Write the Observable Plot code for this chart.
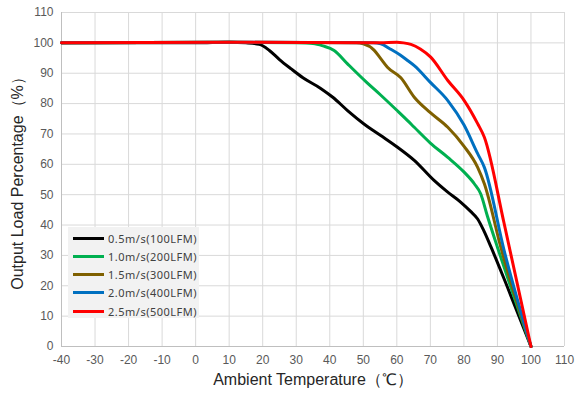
<!DOCTYPE html>
<html>
<head>
<meta charset="utf-8">
<script src="https://cdn.jsdelivr.net/npm/d3@7"></script>
<script src="https://cdn.jsdelivr.net/npm/@observablehq/plot@0.6"></script>
<style>
  html, body { margin: 0; padding: 0; background: #fff; }
  #wrap { position: relative; width: 577px; height: 398px; }
  #legend { position: absolute; left: 68px; top: 227px; width: 131px; height: 91px;
    background: #f2f2f2; font-family: "Noto Sans", "DejaVu Sans", sans-serif; font-size: 11px; letter-spacing: 0.5px; color: #404040; }
  .row { position: absolute; left: 5px; height: 14px; display: flex; align-items: center; }
  .sw { width: 31px; height: 3px; margin-right: 4px; }
</style>
</head>
<body>
<div id="wrap"></div>
<script>
const seriesNames = ["0.5m/s(100LFM)", "1.0m/s(200LFM)", "1.5m/s(300LFM)", "2.0m/s(400LFM)", "2.5m/s(500LFM)"];
const seriesColors = ["#000000", "#00b050", "#7f6000", "#0070c0", "#ff0000"];
const xTicks = [-40,-30,-20,-10,0,10,20,30,40,50,60,70,80,90,100,110];
const yTicks = [0,10,20,30,40,50,60,70,80,90,100,110];

const curve05 = [[-40,100],[0,100],[10,100.2],[15,100],[19,99.5],[22,97.5],[25,94.5],[28.4,91.5],[32,88.5],[37.3,85],[41,82],[45.3,77.7],[50.2,73.3],[55.2,69.5],[60,65.8],[65.2,61.3],[71.1,54.7],[75,51],[79.1,47.5],[82,44.5],[84.1,42],[86,38],[88.1,32.7],[93,19.5],[100,0]];
const curve10 = [[-40,100],[10,100.2],[30,100],[35,99.8],[38,99],[41.3,97.5],[45.3,93.1],[51,87],[55,83],[60,77.8],[63.2,74.4],[65.2,72.2],[70,67],[75.2,62.3],[80,57.5],[83.1,53.6],[85,50.3],[87,43],[90,32.7],[95,16.2],[100,0]];
const curve15 = [[-40,100],[10,100.2],[48,100],[50,99.7],[53.2,97.6],[55.2,94.8],[57.2,92],[61.2,88.5],[65.2,82.1],[70,77],[75.2,72.2],[80,66],[84.1,59],[86.1,53.6],[91,32.7],[100,0]];
const curve20 = [[-40,100],[10,100.2],[53,100],[55.2,99.7],[58,98],[61,96],[63.2,94.2],[65.2,92.5],[70,87],[75.2,81],[80,73],[84.1,63.5],[86.1,59],[92,31.6],[100,0]];
const curve25 = [[-40,100],[10,100.2],[55,100],[60,100.2],[62,100],[64.2,99.5],[67,98],[70.1,95.3],[75.2,87.6],[80.1,81],[84.1,73.4],[86.1,68.9],[92,40.5],[100,0]];
const curves = [curve05, curve10, curve15, curve20, curve25];

const rows = curves.flatMap((c, i) => c.map(([t, v]) => ({t, v, s: seriesNames[i]})));

const chart = Plot.plot({
  width: 577, height: 398,
  marginLeft: 61, marginRight: 13, marginTop: 12, marginBottom: 52,
  style: { fontFamily: "'Liberation Sans', Arial, sans-serif", background: "#fff" },
  x: { domain: [-40, 110], ticks: xTicks },
  y: { domain: [0, 110], ticks: yTicks },
  color: { domain: seriesNames, range: seriesColors },
  marks: [
    Plot.gridX(xTicks, { stroke: "#d9d9d9", strokeOpacity: 1 }),
    Plot.gridY(yTicks, { stroke: "#d9d9d9", strokeOpacity: 1 }),
    Plot.ruleX([-40], { stroke: "#bfbfbf" }),
    Plot.ruleY([0], { stroke: "#bfbfbf" }),
    Plot.axisX(xTicks, { tickSize: 0, tickPadding: 9, fontSize: 12, fill: "#595959", label: null, tickFormat: d => String(d) }),
    Plot.axisY(yTicks, { tickSize: 0, tickPadding: 8, fontSize: 12, fill: "#595959", label: null, tickFormat: d => String(d) }),
    Plot.line(rows, { x: "t", y: "v", z: "s", stroke: "s", strokeWidth: 3, curve: "monotone-x" }),
    Plot.text(["Ambient Temperature（℃）"], { frameAnchor: "bottom", dy: 38, fontSize: 16, fill: "#262626" }),
    Plot.text(["Output Load Percentage（%）"], { frameAnchor: "left", textAnchor: "middle", dx: -44, rotate: -90, fontSize: 16, fill: "#262626" })
  ]
});

const wrap = document.getElementById("wrap");
wrap.appendChild(chart);
const legend = document.createElement("div");
legend.id = "legend";
seriesNames.forEach((name, i) => {
  const r = document.createElement("div");
  r.className = "row";
  r.style.top = (4 + i * 18.3) + "px";
  r.innerHTML = `<span class="sw" style="background:${seriesColors[i]}"></span><span>${name}</span>`;
  legend.appendChild(r);
});
wrap.appendChild(legend);
</script>
</body>
</html>
